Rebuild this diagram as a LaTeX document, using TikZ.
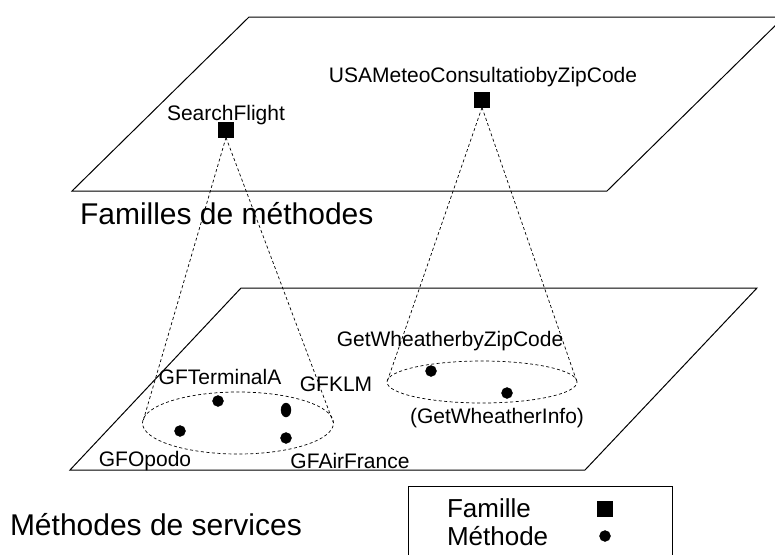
\documentclass[tikz,border=0pt]{standalone}
\usepackage{fontspec}
\setmainfont{Liberation Sans}
\usetikzlibrary{shapes.geometric}
\begin{document}
\begin{tikzpicture}[x=1pt,y=-1pt,inner sep=0pt,outer sep=0pt,
plane/.style={draw,line width=1pt,fill=white},
cone/.style={draw,dash pattern=on 3pt off 2.5pt,line width=0.7pt},
famille/.style={draw,fill=black,rectangle,minimum size=15pt},
methode/.style={draw,fill=black,circle,minimum size=11pt},
lbl/.style={font=\fontsize{21}{24}\selectfont},
big/.style={font=\fontsize{30}{34}\selectfont}]
\useasboundingbox (0,0) rectangle (775,554);
\clip (0,0) rectangle (775,554);

% les deux plans
\draw[plane] (72,191) -- (249,17) -- (784,17) -- (607,191) -- cycle;
\draw[plane] (70,470) -- (241,288) -- (757,288) -- (585,470) -- cycle;

% familles
\draw (226,130) node[famille] (search) {};
\draw (482,100) node[famille] (usa) {};
\draw (226,115) node[lbl] (searchlbl) {SearchFlight};
\draw (483,77) node[lbl] (usalbl) {USAMeteoConsultatiobyZipCode};
\draw (80,214) node[big,anchor=west] (famlbl) {Familles de méthodes};

% methodes
\draw (238,423) node[ellipse,cone,minimum width=191pt,minimum height=62pt] (ell1) {};
\draw (482,382) node[ellipse,cone,minimum width=190pt,minimum height=42pt] (ell2) {};
\draw (218,401) node[methode] (terminal) {};
\draw (286,410) node[methode,ellipse,minimum width=10pt,minimum height=14pt] (klm) {};
\draw (180,431) node[methode] (opodo) {};
\draw (286,438) node[methode] (airfrance) {};
\draw (431,371) node[methode] (zip) {};
\draw (507,393) node[methode] (info) {};
\draw (220,377) node[lbl] (terminallbl) {GFTerminalA};
\draw (336,384) node[lbl] (klmlbl) {GFKLM};
\draw (145,461) node[lbl] (opodolbl) {GFOpodo};
\draw (350,461) node[lbl] (airfrancelbl) {GFAirFrance};
\draw (450,341) node[lbl] (ziplbl) {GetWheatherbyZipCode};
\draw (497,418) node[lbl] (infolbl) {(GetWheatherInfo)};
\draw (10,525) node[big,anchor=west] (methlbl) {Méthodes de services};

% cones
\draw[cone] (search.south) -- (ell1.west);
\draw[cone] (search.south) -- (ell1.east);
\draw[cone] (usa.south) -- (ell2.west);
\draw[cone] (usa.south) -- (ell2.east);

% legende
\draw[line width=0.8pt] (408,486) rectangle (672,580);
\draw (447,508) node[lbl,font=\fontsize{26}{30}\selectfont,anchor=west] (legfam) {Famille};
\draw (447,536) node[lbl,font=\fontsize{26}{30}\selectfont,anchor=west] (legmeth) {Méthode};
\draw (605,509) node[famille] (legsq) {};
\draw (605,536) node[methode] (legdot) {};
\end{tikzpicture}
\end{document}
